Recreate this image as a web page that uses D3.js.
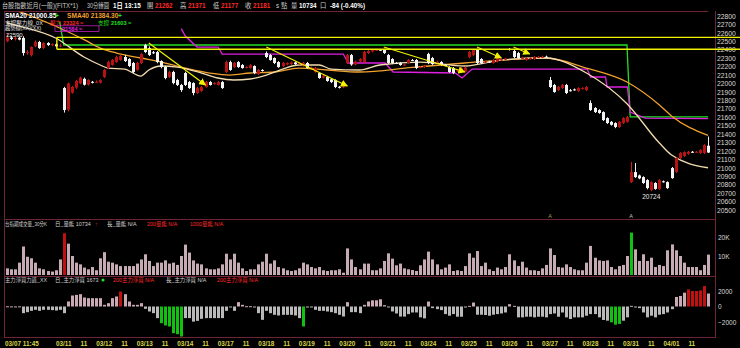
<!DOCTYPE html>
<html>
<head>
<meta charset="utf-8">
<script src="https://cdn.jsdelivr.net/npm/d3@7"></script>
<style>
html, body { margin: 0; padding: 0; background: #000; }
svg { display: block; }
text { font-family: "Liberation Sans", "Noto Sans CJK TC", sans-serif; }
</style>
</head>
<body>
<script>
// ---- data ----
var days = ["03/07", "03/10", "03/11", "03/12", "03/13", "03/14", "03/17", "03/18", "03/19",
            "03/20", "03/21", "03/24", "03/25", "03/26", "03/27", "03/28", "03/31", "04/01"];
var dayStart = [0, 4, 14, 24, 34, 44, 54, 64, 74, 84, 94, 104, 114, 124, 134, 144, 154, 164];
var firstTime = "11:45";

// [open, high, low, close], 30 min bars
var candles = [
  // 03/07
  [22500,22590,22490,22545],[22545,22560,22515,22528],[22528,22555,22510,22542],[22542,22556,22512,22520],
  // 03/10
  [22540,22560,22330,22361],[22365,22395,22340,22372],[22337,22440,22320,22432],[22440,22510,22430,22492],
  [22492,22505,22410,22420],[22420,22490,22410,22480],[22480,22490,22445,22456],[22456,22475,22445,22465],
  [22465,22480,22430,22440],[22440,22470,22430,22450],
  // 03/11
  [21946,21960,21655,21685],[21690,22010,21670,22000],[21890,21970,21880,21958],[21950,22040,21935,22030],
  [22000,22080,21990,22070],[22055,22070,21975,21985],[21985,22050,21975,22041],[22020,22030,22000,22010],
  [22017,22035,22005,22020],[22010,22050,22000,22040],
  // 03/12
  [22077,22170,22065,22160],[22183,22270,22170,22254],[22219,22290,22210,22278],[22254,22330,22245,22314],
  [22278,22345,22270,22326],[22314,22340,22255,22266],[22290,22300,22195,22207],[22243,22255,22120,22136],
  [22160,22255,22150,22243],[22243,22360,22230,22350],
  // 03/13
  [22456,22470,22360,22373],[22420,22440,22325,22337],[22370,22385,22350,22360],[22373,22385,22240,22254],
  [22266,22275,22180,22195],[22195,22210,22050,22065],[22077,22150,22065,22136],[22136,22150,21990,22005],
  [22041,22055,21970,21982],[21982,21995,21900,21922],
  // 03/14
  [22124,22140,21970,21982],[22017,22030,21935,21946],[22005,22015,21860,21887],[21887,21960,21875,21946],
  [21911,21970,21900,21958],[21958,22030,21950,22017],[22017,22030,21975,21982],[21995,22015,21985,22005],
  [21982,22030,21975,22017],[22017,22030,21935,21946],
  // 03/17
  [22136,22270,22125,22254],[22254,22270,22150,22160],[22195,22255,22185,22243],[22254,22265,22185,22195],
  [22219,22230,22175,22183],[22190,22205,22180,22195],[22183,22230,22175,22219],[22207,22215,22110,22124],
  [22112,22170,22100,22160],[22160,22170,22140,22150],
  // 03/18
  [22361,22380,22300,22314],[22337,22350,22270,22278],[22302,22310,22230,22243],[22254,22265,22185,22195],
  [22207,22255,22195,22243],[22225,22250,22215,22243],[22230,22260,22220,22250],[22250,22260,22220,22230],
  [22235,22250,22225,22240],[22210,22255,22200,22245],
  // 03/19
  [22243,22255,22175,22183],[22183,22200,22175,22190],[22136,22195,22125,22183],[22124,22135,22055,22065],
  [22070,22100,22060,22090],[22077,22090,22020,22030],[22050,22060,22005,22017],[22041,22050,21945,21958],
  [21960,21970,21940,21955],[21955,21975,21945,21965],
  // 03/20
  [22243,22350,22230,22337],[22337,22350,22210,22225],[22225,22270,22215,22260],[22260,22300,22250,22290],
  [22254,22385,22240,22373],[22361,22395,22350,22385],[22380,22410,22370,22397],[22397,22410,22385,22400],
  [22400,22410,22385,22395],[22397,22410,22350,22361],
  // 03/21
  [22337,22350,22230,22243],[22290,22300,22230,22243],[22243,22255,22230,22240],[22243,22255,22210,22219],
  [22219,22235,22210,22225],[22243,22290,22235,22278],[22278,22290,22265,22275],[22278,22290,22170,22183],
  [22190,22205,22180,22195],[22195,22220,22185,22210],
  // 03/24
  [22350,22365,22230,22243],[22302,22315,22220,22230],[22243,22270,22235,22258],[22254,22265,22210,22219],
  [22219,22230,22205,22215],[22195,22205,22125,22136],[22183,22195,22110,22124],[22150,22165,22140,22155],
  [22136,22195,22125,22183],[22140,22200,22130,22190],
  // 03/25
  [22314,22385,22300,22373],[22337,22410,22325,22397],[22397,22410,22230,22243],[22290,22300,22230,22243],
  [22254,22270,22245,22260],[22260,22270,22245,22255],[22243,22290,22235,22278],[22260,22315,22250,22302],
  [22280,22295,22270,22285],[22290,22305,22280,22295],
  // 03/26
  [22410,22420,22390,22400],[22385,22400,22300,22314],[22361,22375,22290,22302],[22300,22315,22290,22305],
  [22280,22310,22270,22300],[22295,22310,22285,22300],[22290,22325,22280,22314],[22310,22325,22300,22315],
  [22314,22330,22305,22318],[22318,22330,22300,22310],
  // 03/27
  [22041,22077,21945,21958],[21982,21995,21890,21899],[21922,21970,21910,21958],[21946,21995,21935,21982],
  [21982,21995,21875,21887],[21920,21935,21905,21915],[21930,21940,21915,21925],[21911,21955,21900,21946],
  [21940,21955,21930,21945],[21922,21970,21910,21958],
  // 03/28
  [21768,21800,21675,21685],[21709,21720,21650,21661],[21685,21695,21640,21650],[21661,21670,21555,21566],
  [21590,21600,21520,21531],[21545,21555,21500,21510],[21531,21540,21470,21484],[21484,21555,21475,21545],
  [21531,21600,21520,21590],[21545,21615,21535,21602],
  // 03/31
  [20831,21070,20820,20950],[20950,21057,20880,20890],[20910,20920,20865,20875],[20890,20900,20810,20820],
  [20855,20865,20745,20760],[20736,20840,20724,20831],[20820,20830,20740,20750],[20748,20865,20740,20855],
  [20840,20850,20825,20835],[20831,20840,20750,20760],
  // 04/01
  [20997,21010,20870,20878],[20950,21125,20940,21116],[21116,21185,21105,21175],[21140,21195,21130,21187],
  [21165,21200,21155,21190],[21190,21200,21180,21187],[21187,21200,21178,21190],[21175,21220,21165,21210],
  [21175,21280,21165,21270],[21262,21371,21177,21181]
];

var volume = [
  3500,3000,3000,6500,15000,9600,8800,6500,3500,3000,
  2100,1800,2500,8200,22000,16500,10000,6500,5600,3900,
  3000,4200,2500,8800,12000,7000,6500,5600,4700,4700,
  4700,4700,6000,8200,10900,7400,4700,6500,6500,7700,
  6000,6500,5300,10000,16000,11800,7700,6000,5600,3500,
  3000,3000,3500,5600,11200,8200,11200,6500,3500,2100,
  3000,3000,5600,7000,11200,6000,7700,4200,3500,2500,
  2100,2500,3500,6500,5600,4200,3500,4200,2500,2100,
  2500,2500,3000,1200,14000,8200,4200,3000,6000,6000,
  2500,2500,3500,7400,11400,8600,5100,6000,3500,3000,
  2600,2100,5100,8200,12300,8200,5600,3000,3900,5600,
  2100,2500,2100,4700,11400,9100,12600,4700,6500,3000,
  2100,3900,3000,4200,10900,7700,4700,7000,3900,2500,
  2500,2100,3500,5300,14000,10500,4200,3900,5600,4200,
  3000,2500,2500,6500,15300,9100,7700,7400,7700,4200,
  3000,4700,5300,10000,22300,13500,7400,10900,7400,9100,
  4200,5300,4700,13000,16100,13000,10000,6500,4200,4200,
  4200,2500,5300,10734
];
var volRed = [14];
var volGreen = [154];

// 主力淨買
var netBuy = [
  30,20,10,20,-860,-730,-560,-430,-560,-430,
  -430,-470,-520,-430,-860,650,1420,1500,1590,1160,
  1075,1075,1075,1075,215,430,1075,1290,1935,1590,
  645,215,215,430,-300,-645,-860,-1500,-2150,-2450,
  -2580,-3440,-3570,-3870,-1500,-1500,-1950,-1850,-1590,-1500,
  -1500,-1500,-1500,-1500,-560,-130,-560,560,215,40,
  40,-40,-860,-1720,-560,-860,-1075,-1160,-1075,-1075,
  -1075,-1160,-1500,-2580,-40,-130,-430,-560,-560,-645,
  -730,-860,-1075,-1290,560,-730,-730,-860,215,645,
  800,800,935,170,-40,-640,-900,-1300,-1300,-980,
  -770,-770,-1400,-1530,640,-210,-340,-470,-980,-1190,
  -980,-1320,-1320,-40,85,510,-1060,-1060,-1100,-1190,
  -1060,-980,-900,-770,300,85,-1400,-1400,-1320,-1320,
  -1400,-1320,-1320,-1400,-980,-900,-1320,-770,-1400,-1615,
  -1400,-1400,-1400,-1190,-980,-980,-1400,-1740,-1830,-2040,
  -2340,-2250,-1830,-1400,85,-130,-210,-770,-1400,-1190,
  -1400,-1060,-980,-770,-340,1230,1360,1785,2210,2000,
  2000,2080,2635,1673
];
var netRed = [28, 168, 169, 170, 171, 172];
var netGreen = [38, 39, 40, 41, 42, 43, 73, 149, 150, 151];

// moving averages: [bar index, price]
var sma20 = [[0,22717],[3,22681],[12,22539],[19,22314],[23,22219],[25,22183],[29,22171],[33,22088],
  [35,22160],[38,22207],[42,22195],[48,22124],[52,22065],[56,22041],[60,22053],[64,22100],[68,22171],
  [72,22219],[77,22219],[80,22171],[87,22160],[92,22219],[102,22254],[113,22207],[122,22278],
  [133,22302],[143,22124],[153,21760],[161,21294],[164,21151],[173,21001]];
var sma40 = [[0,22900],[6,22800],[10,22720],[13,22658],[19,22520],[23,22420],[27,22361],[33,22302],
  [38,22254],[44,22183],[50,22124],[55,22100],[60,22124],[66,22136],[72,22183],[79,22160],[87,22136],
  [100,22190],[113,22243],[123,22280],[133,22302],[143,22183],[153,22017],[161,21745],[164,21614],[173,21384]];
// trend line (magenta)
var trendLine = [[43,22650],[44,22563],[46.9,22432],[52.1,22432],[53.1,22349],[83,22349],[84.2,22243],
  [93.3,22243],[95.3,22136],[110.6,22124],[112.3,22065],[114.8,22171],[143.2,22171],[144,22077],
  [147.7,22077],[148.1,21958],[153.1,21958],[153.8,21661],[157.5,21590],[173,21584]];
// support line (green)
var supportLine = [[13,22730],[14,22456],[153,22456],[153.8,21603],[173,21603]];
// yellow box levels
var boxLevels = [22547, 22405];
var boxStart = 12.3;
// yellow arrows [from index, from price, to index, to price]
var arrows = [[35,22480,49,21982],[64,22432,84,21970],[93,22432,113,22136],[116,22432,122,22302],[125,22432,129,22349]];
var marks = [134, 154];

var quoteNames = ["開", "高", "低", "收"];
var quoteValues = [21262, 21371, 21177, 21181];
var lastVolume = 10734, change = -84, changePct = "-0.40%";
var smaValues = ["21000.85", "21384.30"];
var srValues = [23324, 21603];
var trendValue = 21584;

var priceTicks = d3.range(20500, 22801, 100);
var volTicks = [10000, 20000];
var netTicks = [-2000, 0, 2000];

// ---- layout ----
var W = 740, H = 348;
var frame = "#6e2436";
var svg = d3.select("body").append("svg").attr("width", W).attr("height", H);
svg.append("rect").attr("width", W).attr("height", H).attr("fill", "#000");

var defs = svg.append("defs");
defs.append("clipPath").attr("id", "clipP").append("rect")
  .attr("x", 5).attr("y", 12).attr("width", 710).attr("height", 206);
defs.append("marker").attr("id", "arrowY").attr("viewBox", "0 0 10 10")
  .attr("refX", 9).attr("refY", 5).attr("markerWidth", 6).attr("markerHeight", 6)
  .attr("orient", "auto")
  .append("path").attr("d", "M0,0L10,5L0,10z").attr("fill", "#f2f200");

var x = d3.scaleLinear().domain([0, candles.length - 1]).range([7, 708]);
var yP = d3.scaleLinear().domain([20500, 22800]).range([210, 16]);
var yV = d3.scaleLinear().domain([0, 20000]).range([275, 237]);
var yN = d3.scaleLinear().domain([-2000, 2000]).range([322, 291]);
var cx = function (i) { return Math.round(x(i)); };

// frame lines
var fr = svg.append("g").attr("stroke", frame).attr("stroke-width", 1);
fr.append("line").attr("x1", 4).attr("x2", 708).attr("y1", 11.5).attr("y2", 11.5);
fr.append("line").attr("x1", 4.5).attr("x2", 4.5).attr("y1", 11).attr("y2", 338);
fr.append("line").attr("x1", 715.5).attr("x2", 715.5).attr("y1", 11).attr("y2", 338);
fr.append("line").attr("x1", 4).attr("x2", 716).attr("y1", 219.5).attr("y2", 219.5);
fr.append("line").attr("x1", 4).attr("x2", 716).attr("y1", 276.5).attr("y2", 276.5);
fr.append("line").attr("x1", 4).attr("x2", 716).attr("y1", 337.5).attr("y2", 337.5);

// header
var hdr = svg.append("g").attr("font-size", 6.3);
var hdrItems = [
  [2, "台股指數近月(一般)(FITX*1)", "#c8c8c8", "normal", 76],
  [87, "30分鐘圖", "#c8c8c8", "normal", 22],
  [113, "1日 13:15", "#ffffff", "bold", 0]
];
var qx = [147, 180, 213, 245];
quoteNames.forEach(function (n, k) {
  hdrItems.push([qx[k], n, "#d0d0d0", "normal", 0]);
  hdrItems.push([qx[k] + 8, String(quoteValues[k]), "#ff2a2a", "bold", 0]);
});
hdrItems.push([276, "s 點", "#d0d0d0", "normal", 0]);
hdrItems.push([291, "量", "#d0d0d0", "normal", 0]);
hdrItems.push([299, String(lastVolume), "#ffffff", "bold", 0]);
hdrItems.push([320, "口", "#d0d0d0", "normal", 0]);
hdrItems.push([330, change + " (" + changePct + ")", "#ffffff", "bold", 0]);
hdr.selectAll("text").data(hdrItems).enter().append("text")
  .attr("x", function (d) { return d[0]; }).attr("y", 8)
  .attr("fill", function (d) { return d[2]; })
  .attr("font-weight", function (d) { return d[3]; })
  .attr("textLength", function (d) { return d[4] ? d[4] : null; })
  .attr("lengthAdjust", "spacingAndGlyphs")
  .text(function (d) { return d[1]; });

// price panel
var gP = svg.append("g").attr("clip-path", "url(#clipP)");
var line = d3.line().x(function (d) { return x(d[0]); }).y(function (d) { return yP(d[1]); });

gP.append("path").datum(supportLine).attr("d", line)
  .attr("fill", "none").attr("stroke", "#22e022").attr("stroke-width", 1.3);
gP.append("path").datum(trendLine).attr("d", line)
  .attr("fill", "none").attr("stroke", "#e020e0").attr("stroke-width", 1.3);
gP.append("path").datum(sma40).attr("d", line.curve(d3.curveMonotoneX))
  .attr("fill", "none").attr("stroke", "#f0a02c").attr("stroke-width", 1.3);
gP.append("path").datum(sma20).attr("d", line.curve(d3.curveMonotoneX))
  .attr("fill", "none").attr("stroke", "#f2dcae").attr("stroke-width", 1.3);
line.curve(d3.curveLinear);

// candles
var up = function (d) { return d[3] > d[0]; };
gP.selectAll("line.wick").data(candles).enter().append("line").attr("class", "wick")
  .attr("x1", function (d, i) { return cx(i) + 0.5; })
  .attr("x2", function (d, i) { return cx(i) + 0.5; })
  .attr("y1", function (d) { return yP(d[1]); })
  .attr("y2", function (d) { return yP(d[2]); })
  .attr("stroke", function (d) { return up(d) ? "#d42020" : "#f0f0f0"; });
gP.selectAll("rect.body").data(candles).enter().append("rect").attr("class", "body")
  .attr("x", function (d, i) { return cx(i) - 1; }).attr("width", 3)
  .attr("y", function (d) { return yP(Math.max(d[0], d[3])); })
  .attr("height", function (d) { return Math.max(1, Math.abs(yP(d[0]) - yP(d[3]))); })
  .attr("fill", function (d) { return up(d) ? "#b81212" : "#f4f4f4"; });

// arrows
gP.selectAll("line.arrow").data(arrows).enter().append("line").attr("class", "arrow")
  .attr("x1", function (d) { return x(d[0]); }).attr("y1", function (d) { return yP(d[1]); })
  .attr("x2", function (d) { return x(d[2]); }).attr("y2", function (d) { return yP(d[3]); })
  .attr("stroke", "#f2f200").attr("stroke-width", 1.2).attr("marker-end", "url(#arrowY)");

// high / low labels
var hiIdx = d3.maxIndex(candles, function (d) { return d[1]; });
var loIdx = d3.minIndex(candles, function (d) { return d[2]; });
svg.append("text").attr("x", 6).attr("y", yP(candles[hiIdx][1]) + 2.8)
  .attr("font-size", 6).attr("fill", "#e8e8e8").text(candles[hiIdx][1]);
svg.append("text").attr("x", x(loIdx)).attr("y", yP(candles[loIdx][2]) + 8)
  .attr("text-anchor", "middle").attr("font-size", 6.5).attr("fill", "#e8e8e8").text(candles[loIdx][2]);

// small markers near bottom of price panel
svg.selectAll("text.mk").data(marks).enter().append("text").attr("class", "mk")
  .attr("x", function (d) { return x(d); }).attr("y", 218).attr("text-anchor", "middle")
  .attr("font-size", 5.5).attr("fill", function (d, i) { return i === 0 ? "#a89848" : "#c0c0c0"; })
  .text("A");

// price axis
var axP = svg.append("g").attr("transform", "translate(716,0)")
  .call(d3.axisRight(yP).tickValues(priceTicks).tickSize(0).tickPadding(1).tickFormat(d3.format("d")));
axP.select(".domain").remove();
axP.selectAll("text").attr("fill", "#d8d8d8").attr("font-size", 6.8)
  .attr("font-family", "Liberation Sans, sans-serif");

// legends in price panel
var lg = svg.append("g").attr("font-size", 6.6).attr("font-weight", "bold");
lg.append("text").attr("x", 5).attr("y", 18).attr("fill", "#ffffff").text("SMA20 " + smaValues[0]);
lg.append("text").attr("x", 55).attr("y", 18).attr("fill", "#22e022").text("+");
lg.append("text").attr("x", 67).attr("y", 18).attr("fill", "#f0a02c").text("SMA40 " + smaValues[1]);
lg.append("text").attr("x", 118).attr("y", 18).attr("fill", "#22e022").text("+");
var lg2 = svg.append("g").attr("font-size", 5.6);
lg2.append("text").attr("x", 5).attr("y", 24.5).attr("fill", "#e0e0e0").text("支撐壓力線_0X");
lg2.append("text").attr("x", 50).attr("y", 24.5).attr("fill", "#ff2a2a").text("壓力");
lg2.append("text").attr("x", 63).attr("y", 24.5).attr("fill", "#ff2a2a").attr("font-weight", "bold").text(srValues[0] + " =");
lg2.append("text").attr("x", 98).attr("y", 24.5).attr("fill", "#22e022").text("支撐");
lg2.append("text").attr("x", 111).attr("y", 24.5).attr("fill", "#22e022").attr("font-weight", "bold").text(srValues[1] + " =");
lg2.append("text").attr("x", 5).attr("y", 30).attr("fill", "#e0e0e0").attr("font-size", 5.2).text("趨勢線(XX)(XX)");
lg2.append("rect").attr("x", 55).attr("y", 25.8).attr("width", 44).attr("height", 5.6)
  .attr("fill", "none").attr("stroke", "#c020c0").attr("stroke-width", 0.8);
lg2.append("text").attr("x", 62).attr("y", 30.6).attr("fill", "#e020e0").attr("font-weight", "bold").text(trendValue + " =");

// yellow box lines (drawn over everything, run through the axis)
var yb = svg.append("g").attr("stroke", "#f2f200").attr("stroke-width", 1.4);
boxLevels.forEach(function (v) {
  yb.append("line").attr("x1", x(boxStart)).attr("x2", W).attr("y1", yP(v)).attr("y2", yP(v));
});
yb.append("line").attr("x1", x(boxStart)).attr("x2", x(boxStart))
  .attr("y1", yP(boxLevels[0])).attr("y2", yP(boxLevels[1]));

// volume panel
var colorIn = function (arr, i) { return arr.indexOf(i) >= 0; };
svg.append("g").selectAll("rect").data(volume).enter().append("rect")
  .attr("x", function (d, i) { return cx(i) - 1; }).attr("width", 3)
  .attr("y", function (d) { return yV(d); })
  .attr("height", function (d) { return yV(0) - yV(d); })
  .attr("fill", function (d, i) {
    return colorIn(volRed, i) ? "#c01010" : colorIn(volGreen, i) ? "#12c012" : "#c6aab4";
  });
var axV = svg.append("g").attr("transform", "translate(716,0)")
  .call(d3.axisRight(yV).tickValues(volTicks).tickSize(0).tickPadding(2)
    .tickFormat(function (d) { return (d / 1000) + "K"; }));
axV.select(".domain").remove();
axV.selectAll("text").attr("fill", "#d8d8d8").attr("font-size", 6.5);

var vh = svg.append("g").attr("font-size", 5.4);
vh.append("text").attr("x", 5).attr("y", 226).attr("fill", "#d0d0d0")
  .attr("textLength", 42).attr("lengthAdjust", "spacingAndGlyphs").text("台指期成交量_30分K");
vh.append("text").attr("x", 55).attr("y", 226).attr("fill", "#d0d0d0").text("日_量能 " + lastVolume);
vh.append("text").attr("x", 95).attr("y", 226).attr("fill", "#ff2a2a").text("↑");
vh.append("text").attr("x", 107).attr("y", 226).attr("fill", "#d0d0d0").text("長_量能 N/A");
vh.append("text").attr("x", 147).attr("y", 226).attr("fill", "#ff2a2a").text("200量能 N/A");
vh.append("text").attr("x", 190).attr("y", 226).attr("fill", "#ff2a2a").text("1000量能 N/A");

// net buy panel
svg.append("g").selectAll("rect").data(netBuy).enter().append("rect")
  .attr("x", function (d, i) { return cx(i) - 1; }).attr("width", 3)
  .attr("y", function (d) { return Math.min(yN(0), yN(d)); })
  .attr("height", function (d) { return Math.max(1, Math.abs(yN(d) - yN(0))); })
  .attr("fill", function (d, i) {
    if (colorIn(netRed, i)) return "#c01010";
    if (colorIn(netGreen, i)) return "#12c012";
    return d >= 0 ? "#c9a9b3" : "#b9b9b9";
  });
var axN = svg.append("g").attr("transform", "translate(716,0)")
  .call(d3.axisRight(yN).tickValues(netTicks).tickSize(0).tickPadding(2).tickFormat(d3.format("d")));
axN.select(".domain").remove();
axN.selectAll("text").attr("fill", "#d8d8d8").attr("font-size", 6.5);

var nh = svg.append("g").attr("font-size", 5.4);
nh.append("text").attr("x", 5).attr("y", 282).attr("fill", "#d0d0d0")
  .attr("textLength", 42).attr("lengthAdjust", "spacingAndGlyphs").text("主力淨買力道_XX");
nh.append("text").attr("x", 55).attr("y", 282).attr("fill", "#d0d0d0").text("日_主力淨買 " + netBuy[netBuy.length - 1]);
nh.append("circle").attr("cx", 103).attr("cy", 280).attr("r", 1.6).attr("fill", "#22e022");
nh.append("text").attr("x", 113).attr("y", 282).attr("fill", "#ff2a2a").text("200主力淨買 N/A");
nh.append("text").attr("x", 166).attr("y", 282).attr("fill", "#d0d0d0").text("長_主力淨買 N/A");
nh.append("text").attr("x", 217).attr("y", 282).attr("fill", "#ff2a2a").text("200主力淨買 N/A");

// date axis
var dateLabels = [];
days.forEach(function (d, k) {
  if (k === 0) { dateLabels.push({ i: dayStart[k], t: d + " " + firstTime, a: "start" }); return; }
  if (k === 1) return; // hidden by first label
  dateLabels.push({ i: dayStart[k], t: d, a: "middle" });
  dateLabels.push({ i: dayStart[k] + 5, t: "11", a: "middle" });
});
svg.append("g").selectAll("text").data(dateLabels).enter().append("text")
  .attr("x", function (d) { return d.a === "start" ? 5 : x(d.i); })
  .attr("y", 346).attr("text-anchor", function (d) { return d.a; })
  .attr("font-size", 6.4).attr("font-weight", "bold").attr("fill", "#d6d648")
  .text(function (d) { return d.t; });
</script>
</body>
</html>
